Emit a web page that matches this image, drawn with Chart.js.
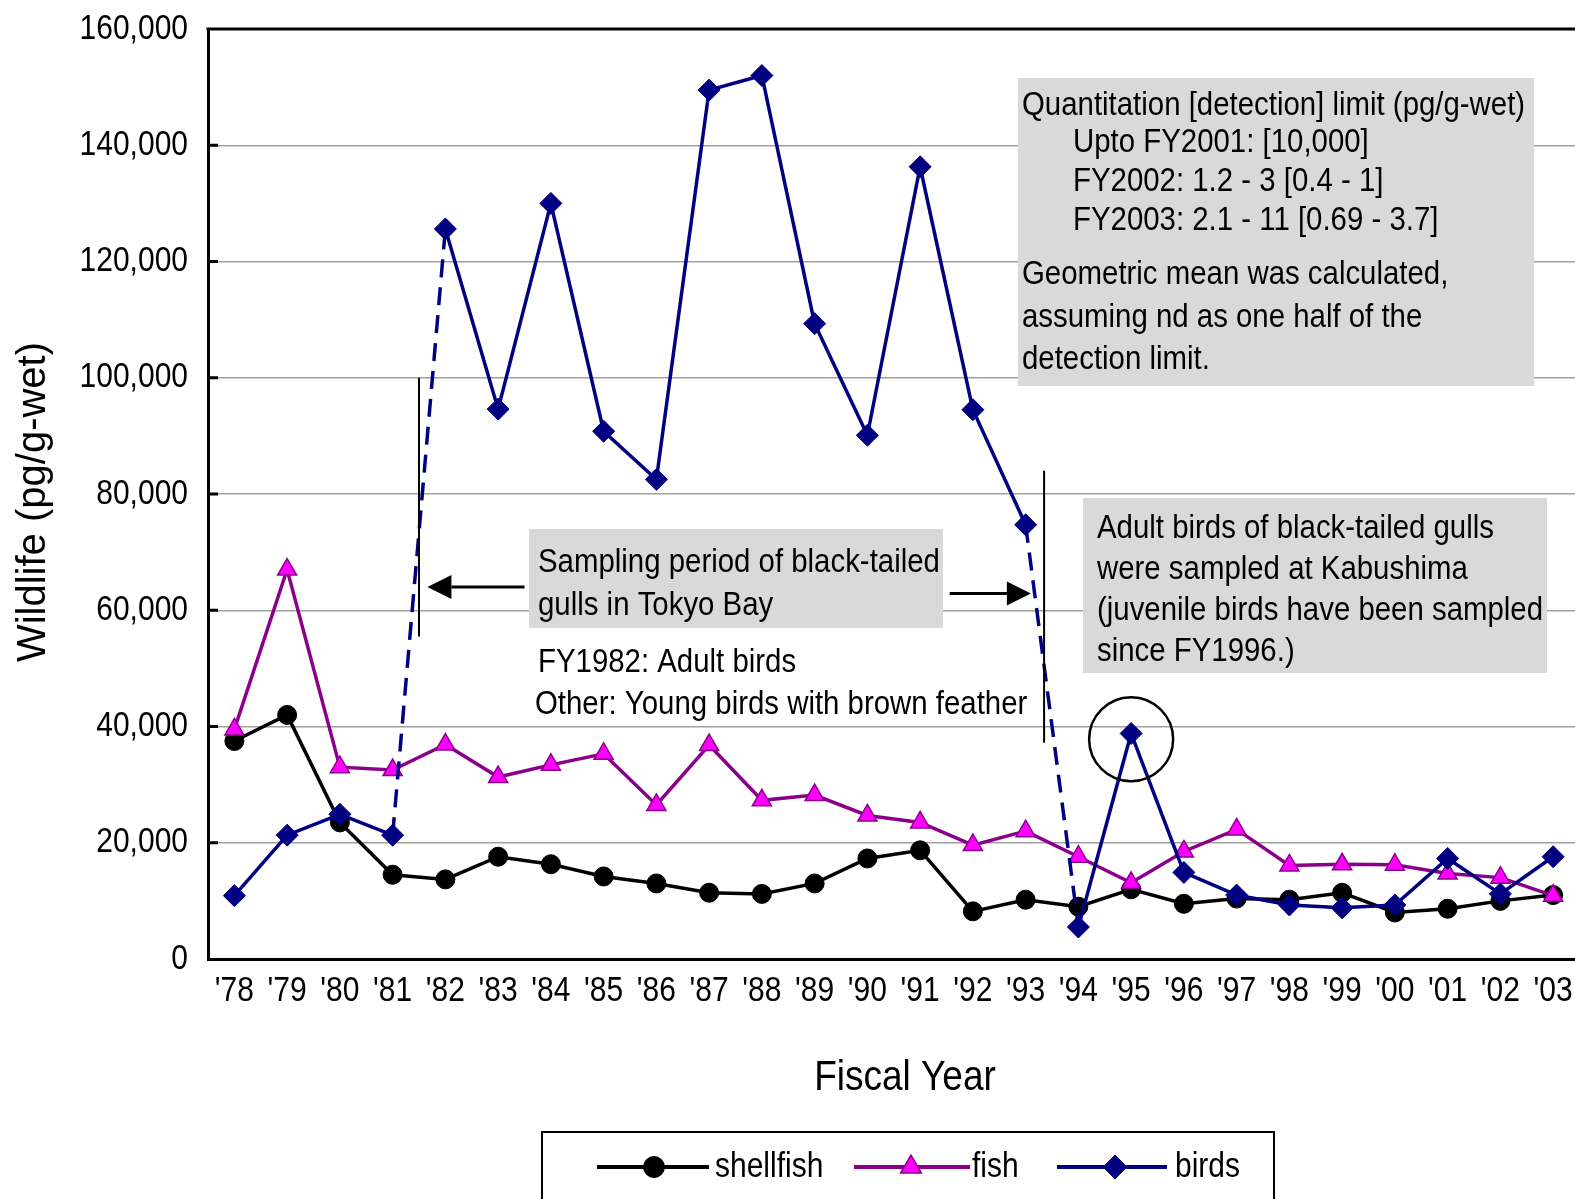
<!DOCTYPE html>
<html><head><meta charset="utf-8">
<script src="https://cdn.jsdelivr.net/npm/chart.js@4.4.1/dist/chart.umd.min.js"></script>
<style>html,body{margin:0;padding:0;background:#fff;overflow:hidden;}canvas{display:block;}</style>
</head><body>
<canvas id="c" width="1592" height="1199"></canvas>
<script>
const categories = ["'78","'79","'80","'81","'82","'83","'84","'85","'86","'87","'88","'89","'90","'91","'92","'93","'94","'95","'96","'97","'98","'99","'00","'01","'02","'03"];
const shellfish = [37500,42000,23500,14500,13700,17600,16300,14200,13000,11400,11200,13000,17300,18700,8200,10200,9000,12000,9500,10400,10200,11400,8000,8650,10000,11000];
const fish = [39500,67000,33000,32500,36900,31300,33400,35300,26500,36800,27300,28200,24700,23500,19600,22000,17600,13100,18500,22300,16100,16300,16200,14700,14000,10900];
const birds = [10900,21300,24900,21300,125600,94600,130000,90800,82500,149500,152000,109300,90100,136300,94500,74700,5500,38800,14900,11000,9300,8800,9300,17300,11200,17600];
const yMin = 0, yMax = 160000, yStep = 20000;
const seriesNames = ["shellfish","fish","birds"];
const dashedFrom = [3, 15]; // birds segments drawn dashed start at these indices

const FONT = "'Liberation Sans', Arial, sans-serif";
const COL = {shell:'#000000', fishLine:'#8B008B', fishFill:'#FF00FF', birds:'#000080', grid:'#a0a0a0', box:'#d9d9d9'};
const STRETCH = 1.15;

function sText(ctx, s, x, y){
  ctx.save(); ctx.translate(x, y); ctx.scale(1, STRETCH); ctx.fillText(s, 0, 0); ctx.restore();
}

const annot = {
  id:'annot',
  beforeDatasetsDraw(chart){
    const ctx = chart.ctx;
    ctx.save();
    ctx.fillStyle = COL.box;
    ctx.fillRect(529,529,414,99);
    ctx.fillRect(1018,78,516,308);
    ctx.fillRect(1083,498,464,175);
    ctx.fillStyle = '#000';
    ctx.font = '29.4px ' + FONT;
    ctx.textBaseline = 'middle';
    ctx.textAlign = 'left';
    const t = (s,x,y)=>sText(ctx,s,x,y);
    t('Sampling period of black-tailed',538,563);
    t('gulls in Tokyo Bay',538,606);
    t('FY1982: Adult birds',538,663);
    t('Other: Young birds with brown feather',535,705);
    t('Quantitation [detection] limit (pg/g-wet)',1022,106);
    t('Upto FY2001: [10,000]',1073,143);
    t('FY2002: 1.2 - 3 [0.4 - 1]',1073,182);
    t('FY2003: 2.1 - 11 [0.69 - 3.7]',1073,221);
    t('Geometric mean was calculated,',1022,275);
    t('assuming nd as one half of the',1022,318);
    t('detection limit.',1022,360);
    t('Adult birds of black-tailed gulls',1097,529);
    t('were sampled at Kabushima',1097,570);
    t('(juvenile birds have been sampled',1097,611);
    t('since FY1996.)',1097,652);
    ctx.restore();
  },
  afterDatasetsDraw(chart){
    const ctx = chart.ctx, xs = chart.scales.x, ys = chart.scales.y, ca = chart.chartArea;
    ctx.save();
    ctx.strokeStyle = '#000'; ctx.lineWidth = 3;
    for (let v = yMin + yStep; v < yMax; v += yStep){
      const y = ys.getPixelForValue(v);
      ctx.beginPath(); ctx.moveTo(ca.left, y); ctx.lineTo(ca.left + 10, y); ctx.stroke();
    }
    ctx.beginPath(); ctx.moveTo(ca.left-1.5, ca.top); ctx.lineTo(chart.width, ca.top); ctx.stroke();
    ctx.lineWidth = 2;
    const xv1 = xs.getPixelForValue(3.5), xv2 = xs.getPixelForValue(15.35);
    ctx.beginPath(); ctx.moveTo(xv1, ys.getPixelForValue(100000)); ctx.lineTo(xv1, ys.getPixelForValue(55500)); ctx.stroke();
    ctx.beginPath(); ctx.moveTo(xv2, ys.getPixelForValue(84000)); ctx.lineTo(xv2, ys.getPixelForValue(37200)); ctx.stroke();
    function arrow(x0,x1,y){
      ctx.lineWidth = 3;
      const dir = Math.sign(x1-x0), hl = 24, hw = 12;
      ctx.beginPath(); ctx.moveTo(x0,y); ctx.lineTo(x1 - dir*hl, y); ctx.stroke();
      ctx.beginPath(); ctx.moveTo(x1,y); ctx.lineTo(x1-dir*hl,y-hw); ctx.lineTo(x1-dir*hl,y+hw); ctx.closePath(); ctx.fill();
    }
    ctx.fillStyle = '#000';
    arrow(xs.getPixelForValue(5.5), xs.getPixelForValue(3.66), ys.getPixelForValue(64000));
    arrow(xs.getPixelForValue(13.56), xs.getPixelForValue(15.1), ys.getPixelForValue(62900));
    ctx.lineWidth = 2.5;
    ctx.beginPath(); ctx.arc(xs.getPixelForValue(17), ys.getPixelForValue(37800), 42, 0, Math.PI*2); ctx.stroke();
    ctx.restore();
  },
  afterDraw(chart){
    const ctx = chart.ctx, xs = chart.scales.x, ys = chart.scales.y, ca = chart.chartArea;
    ctx.save();
    ctx.fillStyle = '#000';
    ctx.textBaseline = 'middle';
    // tick labels from the library's scales
    ctx.font = '30px ' + FONT;
    ctx.textAlign = 'right';
    ys.ticks.forEach((tk, i) => sText(ctx, tk.value.toLocaleString('en-US'), ca.left - 20, ys.getPixelForTick(i)));
    ctx.textAlign = 'center';
    xs.ticks.forEach((tk, i) => sText(ctx, categories[tk.value], xs.getPixelForTick(i), ca.bottom + 32));
    // axis titles
    ctx.font = '37px ' + FONT;
    sText(ctx, 'Fiscal Year', 905, 1078);
    ctx.save();
    ctx.translate(34, 502); ctx.rotate(-Math.PI/2);
    ctx.font = '40px ' + FONT;
    ctx.fillText('Wildlife (pg/g-wet)', 0, 0);
    ctx.restore();
    // legend
    ctx.strokeStyle = '#000'; ctx.lineWidth = 2;
    ctx.strokeRect(542, 1132, 732, 100);
    const ly = 1167;
    const items = [
      {x0:597,x1:709,mx:654,tx:715,ds:chart.data.datasets[2]},
      {x0:854,x1:970,mx:911,tx:972,ds:chart.data.datasets[1]},
      {x0:1057,x1:1167,mx:1115,tx:1175,ds:chart.data.datasets[0]},
    ];
    items.forEach(it=>{
      ctx.strokeStyle = it.ds.borderColor; ctx.lineWidth = 4;
      ctx.beginPath(); ctx.moveTo(it.x0, ly); ctx.lineTo(it.x1, ly); ctx.stroke();
      ctx.fillStyle = it.ds.pointBackgroundColor; ctx.strokeStyle = it.ds.pointBorderColor;
      ctx.lineWidth = it.ds.pointBorderWidth;
      Chart.helpers.drawPoint(ctx, {pointStyle: it.ds.pointStyle, radius: it.ds.pointRadius + 1, borderWidth: it.ds.pointBorderWidth, rotation:0}, it.mx, ly);
      ctx.fillStyle = '#000';
      ctx.font = '30px ' + FONT; ctx.textAlign = 'left';
      sText(ctx, it.ds.label, it.tx, ly);
    });
    ctx.restore();
  }
};

new Chart(document.getElementById('c'), {
  type:'line',
  data:{
    labels: categories,
    datasets:[
      {label:seriesNames[2], data:birds, order:0, borderColor:COL.birds, borderWidth:3.5,
       pointStyle:'rectRot', pointRadius:11, pointBackgroundColor:COL.birds, pointBorderColor:COL.birds, pointBorderWidth:1,
       segment:{borderDash: c => dashedFrom.includes(c.p0DataIndex) ? [18,10] : undefined}},
      {label:seriesNames[1], data:fish, order:1, borderColor:COL.fishLine, borderWidth:3.5,
       pointStyle:'triangle', pointRadius:11, pointBackgroundColor:COL.fishFill, pointBorderColor:COL.fishLine, pointBorderWidth:1.5},
      {label:seriesNames[0], data:shellfish, order:2, borderColor:COL.shell, borderWidth:3.5,
       pointStyle:'circle', pointRadius:9.5, pointBackgroundColor:COL.shell, pointBorderColor:COL.shell, pointBorderWidth:1},
    ]
  },
  options:{
    responsive:false, animation:false, devicePixelRatio:1,
    layout:{padding:{top:29,left:0,right:0,bottom:0}},
    plugins:{legend:{display:false}, tooltip:{enabled:false}},
    elements:{line:{tension:0}},
    scales:{
      x:{type:'category', offset:true,
         grid:{display:false, drawTicks:false},
         border:{display:true, color:'#000', width:3},
         ticks:{display:false, autoSkip:false},
         afterFit(s){ s.height = 240; s.paddingLeft = 0; s.paddingRight = 0; }},
      y:{min:yMin, max:yMax,
         grid:{color:COL.grid, lineWidth:1.5, drawTicks:false},
         border:{display:true, color:'#000', width:3},
         ticks:{display:false, stepSize:yStep},
         afterFit(s){ s.width = 208; s.paddingTop = 0; s.paddingBottom = 0; }}
    }
  },
  plugins:[annot]
});
</script>
</body></html>
